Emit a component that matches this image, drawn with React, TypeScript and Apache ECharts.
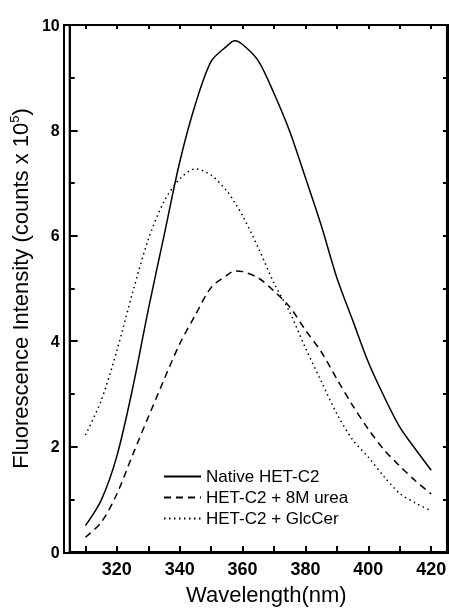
import React, { useEffect, useRef } from "react";
import * as echarts from "echarts";

const wavelengths = [310, 315, 320, 325, 330, 335, 340, 345, 350, 355, 357.5, 360, 365, 370, 375, 380, 385, 390, 395, 400, 405, 410, 415, 420];
const nativeHET = [0.5, 0.98, 1.82, 3.1, 4.6, 6.0, 7.4, 8.5, 9.31, 9.6, 9.7, 9.63, 9.32, 8.7, 7.98, 7.1, 6.2, 5.2, 4.4, 3.6, 2.95, 2.37, 1.95, 1.55];
const ureaHET = [0.28, 0.56, 1.1, 1.84, 2.56, 3.27, 3.95, 4.5, 5.02, 5.25, 5.33, 5.32, 5.2, 4.95, 4.65, 4.21, 3.8, 3.28, 2.78, 2.33, 1.94, 1.63, 1.35, 1.1];
const glcHET = [2.22, 2.87, 3.82, 4.92, 5.93, 6.65, 7.08, 7.27, 7.15, 6.85, 6.63, 6.38, 5.77, 5.1, 4.55, 3.87, 3.24, 2.62, 2.13, 1.8, 1.43, 1.11, 0.93, 0.78];

const seriesNames = ["Native HET-C2", "HET-C2 + 8M urea", "HET-C2 + GlcCer"];
const xRange = [305, 425];
const yRange = [0, 10];
const xLabelStep = 20;

const FONT = 'Arial, "Liberation Sans", sans-serif';
const W = 449;
const H = 610;
const GRID = { left: 64, right: 1, top: 25, bottom: 57 };

export default function App() {
  const ref = useRef<HTMLDivElement>(null);
  useEffect(() => {
    if (!ref.current) return;
    const chart = echarts.init(ref.current, null, { renderer: "svg" });
    const pairs = (ys: number[]) => wavelengths.map((x, i) => [x, ys[i]]);
    const line = () => ({ show: true, onZero: false, lineStyle: { color: "#000", width: 2 } });
    const tick = (len: number) => ({ show: true, inside: true, length: len, lineStyle: { color: "#000", width: 2 } });
    chart.setOption({
      animation: false,
      grid: { ...GRID, show: true, borderColor: "#000", borderWidth: 2, backgroundColor: "transparent" },
      graphic: [
        {
          type: "rect",
          silent: true,
          z: 100,
          shape: { x: GRID.left, y: GRID.top, width: W - GRID.left - GRID.right, height: H - GRID.top - GRID.bottom },
          style: { fill: "none", stroke: "#000", lineWidth: 2 },
        },
      ],
      legend: {
        orient: "vertical",
        left: 163,
        top: 468,
        padding: 0,
        itemWidth: 37,
        itemHeight: 14,
        itemGap: 4,
        itemStyle: { opacity: 0 },
        textStyle: { fontFamily: FONT, fontSize: 17, color: "#000", lineHeight: 17 },
        data: seriesNames,
      },
      xAxis: [
        {
          type: "value",
          min: xRange[0],
          max: xRange[1],
          splitNumber: 12,
          position: "bottom",
          axisLine: line(),
          axisTick: tick(6),
          axisLabel: {
            show: true,
            showMinLabel: false,
            showMaxLabel: false,
            formatter: (v: number) => (v % xLabelStep === 0 ? String(v) : ""),
            fontFamily: FONT,
            fontWeight: "bold",
            fontSize: 18,
            color: "#000",
            margin: 8,
          },
          splitLine: { show: false },
          name: "Wavelength(nm)",
          nameLocation: "middle",
          nameGap: 31,
          nameTextStyle: { fontFamily: FONT, fontSize: 22, color: "#000", padding: [0, 0, 0, 16] },
        },
        {
          type: "value",
          min: xRange[0],
          max: xRange[1],
          splitNumber: 12,
          position: "top",
          axisLine: line(),
          axisTick: tick(4),
          axisLabel: { show: false },
          splitLine: { show: false },
        },
      ],
      yAxis: [
        {
          type: "value",
          min: yRange[0],
          max: yRange[1],
          interval: 2,
          position: "left",
          axisLine: line(),
          axisTick: tick(8),
          minorTick: { show: true, splitNumber: 2, length: 5, lineStyle: { color: "#000", width: 2 } },
          axisLabel: { fontFamily: FONT, fontWeight: "bold", fontSize: 16, color: "#000", margin: 10 },
          splitLine: { show: false },
          minorSplitLine: { show: false },
          name: "Fluorescence Intensity (counts x 10{sup|5})",
          nameLocation: "middle",
          nameRotate: 90,
          nameGap: 28,
          nameTextStyle: {
            fontFamily: FONT,
            fontSize: 22,
            color: "#000",
            rich: {
              sup: { fontFamily: FONT, fontSize: 13, color: "#000", verticalAlign: "top", lineHeight: 24 },
            },
          },
        },
        {
          type: "value",
          min: yRange[0],
          max: yRange[1],
          interval: 1,
          position: "right",
          axisLine: line(),
          axisTick: tick(4),
          axisLabel: { show: false },
          splitLine: { show: false },
        },
      ],
      series: [
        {
          name: seriesNames[0],
          type: "line",
          data: pairs(nativeHET),
          smooth: 0.3,
          symbol: "none",
          lineStyle: { color: "#000", width: 1.5, type: "solid" },
          itemStyle: { color: "#000" },
        },
        {
          name: seriesNames[1],
          type: "line",
          data: pairs(ureaHET),
          smooth: 0.3,
          symbol: "none",
          lineStyle: { color: "#000", width: 1.5, type: [7, 5] },
          itemStyle: { color: "#000" },
        },
        {
          name: seriesNames[2],
          type: "line",
          data: pairs(glcHET),
          smooth: 0.3,
          symbol: "none",
          lineStyle: { color: "#000", width: 1.5, type: [1.5, 3.5] },
          itemStyle: { color: "#000" },
        },
      ],
    });
    return () => chart.dispose();
  }, []);
  return <div ref={ref} style={{ position: "fixed", left: 0, top: 0, width: W, height: H }} />;
}
